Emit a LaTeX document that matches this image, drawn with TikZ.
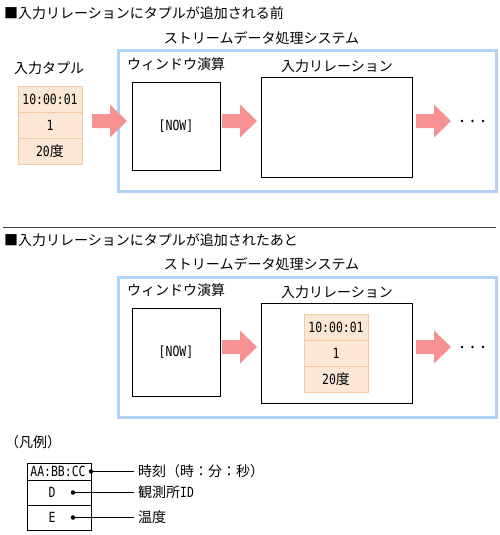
\documentclass[tikz,border=0pt]{standalone}
\usepackage{fontspec}
\setmainfont{Noto Sans CJK JP}
\newfontfamily\narrowf[FakeStretch=0.82]{DejaVu Sans Mono}
\definecolor{sysblue}{RGB}{176,212,248}
\definecolor{arrowpink}{RGB}{248,146,146}
\definecolor{tupfill}{RGB}{252,231,214}
\definecolor{tupline}{RGB}{244,202,164}
\begin{document}
\begin{tikzpicture}[x=1pt,y=-1pt,
  every node/.style={font=\fontsize{14}{16}\selectfont, inner sep=0pt},
  sysbox/.style={draw=sysblue, line width=3pt, minimum width=378pt, minimum height=140pt},
  opbox/.style={draw=black, line width=0.9pt, minimum width=88pt, minimum height=88pt},
  relbox/.style={draw=black, line width=0.9pt, minimum width=151pt, minimum height=100pt},
  tupcell/.style={draw=tupline, fill=tupfill, line width=0.9pt, minimum width=64pt, minimum height=26pt},
  legcell/.style={draw=black, line width=0.9pt, minimum width=64pt},
  dotmark/.style={circle, fill=black, minimum size=4.5pt},
  ptdot/.style={circle, fill=black, minimum size=2.8pt},
  fatarrow/.pic={\fill[arrowpink] (0,-7) -- (18,-7) -- (18,-16.5) -- (35,0) -- (18,16.5) -- (18,7) -- (0,7) -- cycle;}
]
\useasboundingbox (0,0) rectangle (499,535);

% ---------- top section ----------
\node[anchor=west] (title1) at (4,13) {■入力リレーションにタプルが追加される前};
\node (sys1lbl) at (261.5,38) {ストリームデータ処理システム};
\node[sysbox] (sys1) at (307,121) {};
\node (intuplbl) at (49,68) {入力タプル};
\node[tupcell] (t1a) at (50,99) {\narrowf 10:00:01};
\node[tupcell] (t1b) at (50,125) {\narrowf 1};
\node[tupcell] (t1c) at (50,151) {{\narrowf 20}度};
\pic at (92,121) {fatarrow};
\node[anchor=west] (win1lbl) at (127,64) {ウィンドウ演算};
\node[opbox] (win1) at (176,126) {\narrowf [NOW]};
\pic at (222,121) {fatarrow};
\node (rel1lbl) at (337,66) {入力リレーション};
\node[relbox] (rel1) at (336.5,127) {};
\pic at (416,121) {fatarrow};
\node[ptdot] (d1a) at (462,121) {};
\node[ptdot] (d1b) at (472.5,121) {};
\node[ptdot] (d1c) at (483,121) {};

% separator
\coordinate (sepL) at (3,227);
\coordinate (sepR) at (496,227);
\draw[black!75, line width=0.9pt] (sepL) -- (sepR);

% ---------- bottom section ----------
\node[anchor=west] (title2) at (4,240) {■入力リレーションにタプルが追加されたあと};
\node (sys2lbl) at (261.5,264) {ストリームデータ処理システム};
\node[sysbox] (sys2) at (307,347) {};
\node[anchor=west] (win2lbl) at (127,290) {ウィンドウ演算};
\node[opbox] (win2) at (176,352) {\narrowf [NOW]};
\pic at (222,347) {fatarrow};
\node (rel2lbl) at (337,292) {入力リレーション};
\node[relbox] (rel2) at (336.5,353) {};
\node[tupcell] (t2a) at (336,327) {\narrowf 10:00:01};
\node[tupcell] (t2b) at (336,353) {\narrowf 1};
\node[tupcell] (t2c) at (336,379) {{\narrowf 20}度};
\pic at (416,347) {fatarrow};
\node[ptdot] (d2a) at (462,347) {};
\node[ptdot] (d2b) at (472.5,347) {};
\node[ptdot] (d2c) at (483,347) {};

% ---------- legend ----------
\node[anchor=west] (leglbl) at (5,442) {（凡例）};
\node[legcell, minimum height=17pt] (l1) at (59,471.5) {};
\node[legcell, minimum height=25pt] (l2) at (59,492.5) {};
\node[legcell, minimum height=25pt] (l3) at (59,517.5) {};
\node (l1txt) at (58,471.5) {\narrowf AA:BB:CC};
\node (l2txt) at (52,492.5) {\narrowf D};
\node (l3txt) at (52,517.5) {\narrowf E};
\node[dotmark] (p1) at (91,471.5) {};
\node[dotmark] (p2) at (73,492.5) {};
\node[dotmark] (p3) at (73,517.5) {};
\node[anchor=west] (e1) at (138,471.5) {時刻（時：分：秒）};
\node[anchor=west] (e2) at (138,492.5) {観測所{\narrowf ID}};
\node[anchor=west] (e3) at (138,517.5) {温度};
\draw[line width=0.9pt] (p1.center) -- ([xshift=-4pt]e1.west);
\draw[line width=0.9pt] (p2.center) -- ([xshift=-4pt]e2.west);
\draw[line width=0.9pt] (p3.center) -- ([xshift=-4pt]e3.west);
\end{tikzpicture}
\end{document}
